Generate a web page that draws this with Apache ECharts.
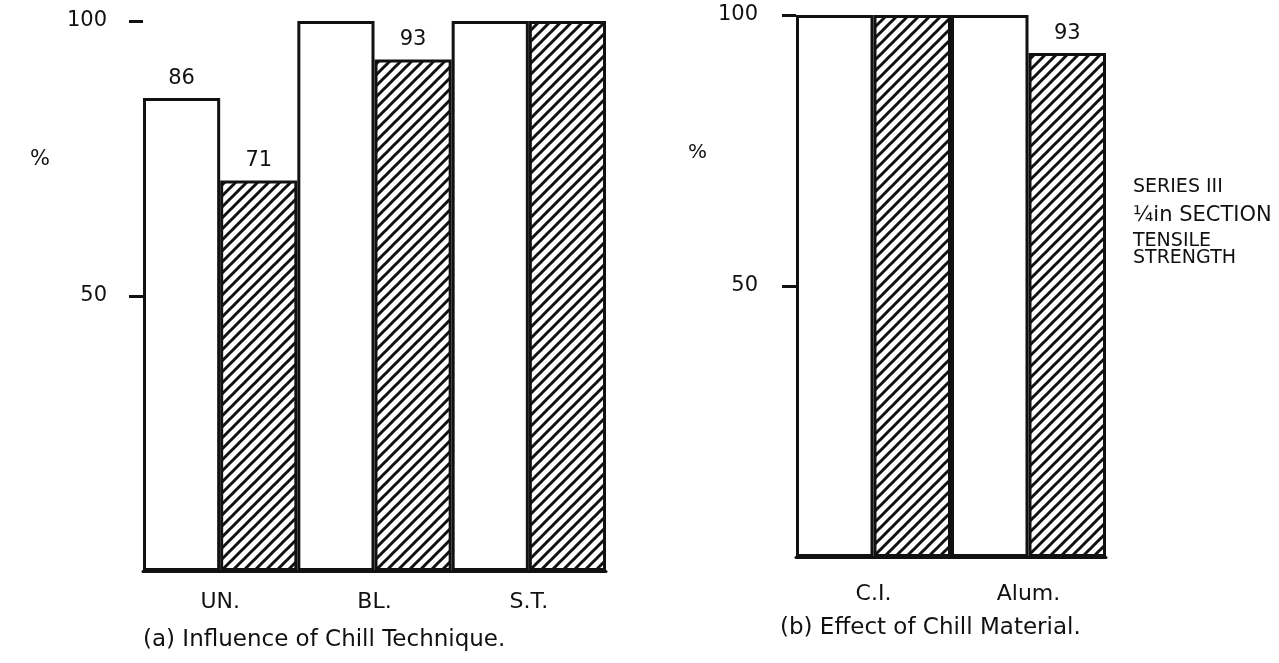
<!DOCTYPE html>
<html>
<head>
<meta charset="utf-8">
<script src="https://cdn.jsdelivr.net/npm/echarts@6/dist/echarts.min.js"></script>
<style>
  html, body { margin: 0; padding: 0; background: #fff; }
  #chart { width: 1279px; height: 663px; overflow: hidden; }
</style>
</head>
<body>
<div id="chart"></div>
<script>
// Series III, 1/4 in section, tensile strength (% of best result)
const chillTechniques = ['UN.', 'BL.', 'S.T.'];
const techniquePlain = [86, 100, 100];
const techniqueHatched = [71, 93, 100];

const chillMaterials = ['C.I.', 'Alum.'];
const materialPlain = [100, 100];
const materialHatched = [100, 93];

const yTickValues = [50, 100];

const FONT = '"DejaVu Sans", "Liberation Sans", Arial, sans-serif';
const INK = '#111';

// diagonal "/" hatching tile
function makeHatch() {
  const s = 11;
  const c = document.createElement('canvas');
  c.width = s; c.height = s;
  const ctx = c.getContext('2d');
  ctx.fillStyle = '#fff';
  ctx.fillRect(0, 0, s, s);
  ctx.strokeStyle = INK;
  ctx.lineWidth = 3;
  for (const k of [0, s, 2 * s]) {
    // line x + y = k
    ctx.beginPath();
    ctx.moveTo(-2, k + 2);
    ctx.lineTo(k + 2, -2);
    ctx.stroke();
  }
  return c;
}
const hatch = { image: makeHatch(), repeat: 'repeat' };

const barBorder = { borderColor: INK, borderWidth: 3 };

// only the bars below 100 % carry their value
function valueLabel() {
  return {
    show: true,
    position: 'top',
    distance: 9,
    fontFamily: FONT,
    fontSize: 21,
    color: INK,
    formatter: p => (p.value < 100 ? String(p.value) : '')
  };
}

function yAxisFor(gridIndex, margin) {
  return {
    type: 'value',
    gridIndex,
    min: 0,
    max: 100,
    interval: 50,
    axisLine: { show: false },
    splitLine: { show: false },
    axisTick: { show: true, length: 14, lineStyle: { color: INK, width: 3 }, customValues: yTickValues },
    axisLabel: { margin, fontFamily: FONT, fontSize: 21, color: INK, customValues: yTickValues }
  };
}

function xAxisFor(gridIndex, data, margin) {
  return {
    type: 'category',
    gridIndex,
    data,
    axisLine: { show: true, lineStyle: { color: INK, width: 3 } },
    axisTick: { show: false },
    axisLabel: { margin, fontFamily: FONT, fontSize: 22, color: INK }
  };
}

const chart = echarts.init(document.getElementById('chart'), null, { renderer: 'canvas' });

chart.setOption({
  backgroundColor: '#fff',
  animation: false,
  title: [
    { text: '(a) Influence of Chill Technique.', left: 143, top: 629, padding: 0,
      textStyle: { fontFamily: FONT, fontSize: 23, fontWeight: 'normal', color: INK } },
    { text: '(b) Effect of Chill Material.', left: 780, top: 617, padding: 0,
      textStyle: { fontFamily: FONT, fontSize: 23, fontWeight: 'normal', color: INK } }
  ],
  grid: [
    { left: 143, top: 21, width: 463, height: 550 },
    { left: 796, top: 15, width: 310, height: 542 }
  ],
  xAxis: [xAxisFor(0, chillTechniques, 20), xAxisFor(1, chillMaterials, 26)],
  yAxis: [yAxisFor(0, 36), yAxisFor(1, 38)],
  series: [
    { type: 'bar', xAxisIndex: 0, yAxisIndex: 0, data: techniquePlain,
      barGap: '0%', barCategoryGap: '0%',
      itemStyle: Object.assign({ color: '#fff' }, barBorder), label: valueLabel() },
    { type: 'bar', xAxisIndex: 0, yAxisIndex: 0, data: techniqueHatched,
      barGap: '0%', barCategoryGap: '0%',
      itemStyle: Object.assign({ color: hatch }, barBorder), label: valueLabel() },
    { type: 'bar', xAxisIndex: 1, yAxisIndex: 1, data: materialPlain,
      barGap: '0%', barCategoryGap: '0%',
      itemStyle: Object.assign({ color: '#fff' }, barBorder), label: valueLabel() },
    { type: 'bar', xAxisIndex: 1, yAxisIndex: 1, data: materialHatched,
      barGap: '0%', barCategoryGap: '0%',
      itemStyle: Object.assign({ color: hatch }, barBorder), label: valueLabel() }
  ],
  graphic: [
    { type: 'text', left: 30, top: 149, style: { text: '%', font: '21px ' + FONT, fill: INK } },
    { type: 'text', left: 688, top: 143, style: { text: '%', font: '20px ' + FONT, fill: INK } },
    { type: 'text', left: 1133, top: 178,
      style: { text: 'SERIES III', font: '19px ' + FONT, fill: INK } },
    { type: 'text', left: 1133, top: 205,
      style: { text: '¼in SECTION', font: '21px ' + FONT, fill: INK } },
    { type: 'text', left: 1133, top: 232,
      style: { text: 'TENSILE\nSTRENGTH', font: '19px ' + FONT, fill: INK, lineHeight: 17 } }
  ]
});
</script>
</body>
</html>
